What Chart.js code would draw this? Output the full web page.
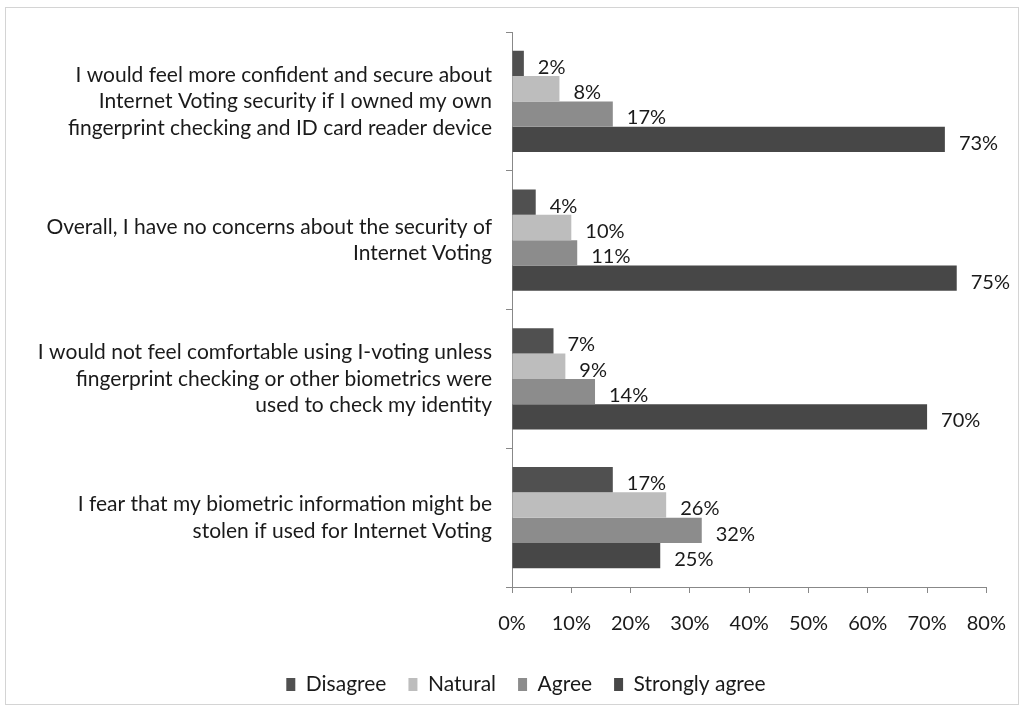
<!DOCTYPE html>
<html>
<head>
<meta charset="utf-8">
<script src="https://cdn.jsdelivr.net/npm/chart.js@4.4.0/dist/chart.umd.min.js"></script>
<style>
  html, body { margin: 0; padding: 0; background: #fff; }
  #wrap { width: 1025px; height: 710px; }
</style>
</head>
<body>
<div id="wrap"><canvas id="myChart" width="1025" height="710"></canvas></div>
<script>
// statements (y categories), top to bottom
const statements = [
  ["I would feel more confident and secure about", "Internet Voting security if I owned my own", "fingerprint checking and ID card reader device"],
  ["Overall, I have no concerns about the security of", "Internet Voting"],
  ["I would not feel comfortable using I-voting unless", "fingerprint checking or other biometrics were", "used to check my identity"],
  ["I fear that my biometric information might be", "stolen if used for Internet Voting"]
];
const disagree = [2, 4, 7, 17];
const natural = [8, 10, 9, 26];
const agree = [17, 11, 14, 32];
const stronglyAgree = [73, 75, 70, 25];
const xTicks = [0, 10, 20, 30, 40, 50, 60, 70, 80];

const FONT = "Lato, 'Liberation Sans', sans-serif";

// frame round the whole picture
const framePlugin = {
  id: "frame",
  beforeDraw(chart) {
    const ctx = chart.ctx;
    ctx.save();
    ctx.fillStyle = "#fff";
    ctx.fillRect(0, 0, chart.width, chart.height);
    ctx.strokeStyle = "#d4d4d4";
    ctx.lineWidth = 1;
    ctx.strokeRect(5.5, 7.5, 1013, 697);
    ctx.restore();
  }
};

// the legend sits a little right of centre in the original
const legendShift = {
  id: "legendShift",
  afterLayout(chart) {
    if (chart.legend) {
      chart.legend.left += 32;
      chart.legend.right += 32;
    }
  }
};

// percent labels to the right of each bar
const valueLabels = {
  id: "valueLabels",
  afterDatasetsDraw(chart) {
    const ctx = chart.ctx;
    ctx.save();
    ctx.font = "20px " + FONT;
    ctx.fillStyle = "#1a1a1a";
    ctx.textAlign = "left";
    ctx.textBaseline = "middle";
    chart.data.datasets.forEach((ds, i) => {
      chart.getDatasetMeta(i).data.forEach((bar, j) => {
        ctx.fillText(ds.data[j] + "%", bar.x + 14, bar.y + 4);
      });
    });
    ctx.restore();
  }
};

new Chart(document.getElementById("myChart"), {
  type: "bar",
  data: {
    labels: statements,
    datasets: [
      { label: "Disagree", data: disagree, backgroundColor: "#505050" },
      { label: "Natural", data: natural, backgroundColor: "#bdbdbd" },
      { label: "Agree", data: agree, backgroundColor: "#8c8c8c" },
      { label: "Strongly agree", data: stronglyAgree, backgroundColor: "#474747" }
    ]
  },
  options: {
    indexAxis: "y",
    responsive: false,
    animation: false,
    layout: { padding: { top: 32, right: 37, bottom: 5, left: 0 } },
    datasets: { bar: { categoryPercentage: 0.73, barPercentage: 1.0 } },
    scales: {
      x: {
        min: 0,
        max: 80,
        afterBuildTicks(scale) { scale.ticks = xTicks.map(v => ({ value: v })); },
        grid: { drawOnChartArea: false, color: "#888", tickLength: 6 },
        border: { color: "#888" },
        ticks: {
          color: "#1a1a1a",
          font: { family: FONT, size: 20 },
          padding: 19,
          maxRotation: 0,
          callback: v => v + "%"
        },
        afterFit(scale) { scale.height = 65; }
      },
      y: {
        grid: { drawOnChartArea: false, color: "#888", tickLength: 6, offset: true },
        border: { color: "#888" },
        ticks: {
          color: "#1a1a1a",
          font: { family: FONT, size: 21, lineHeight: 1.26 },
          padding: 14
        },
        afterFit(scale) {
          scale.width = 512;
          scale.paddingTop = 0;
          scale.paddingBottom = 0;
        }
      }
    },
    plugins: {
      legend: {
        position: "bottom",
        labels: {
          color: "#1a1a1a",
          font: { family: FONT, size: 21 },
          boxWidth: 9,
          boxHeight: 13,
          padding: 22
        }
      },
      tooltip: { enabled: false }
    }
  },
  plugins: [framePlugin, legendShift, valueLabels]
});
</script>
</body>
</html>
